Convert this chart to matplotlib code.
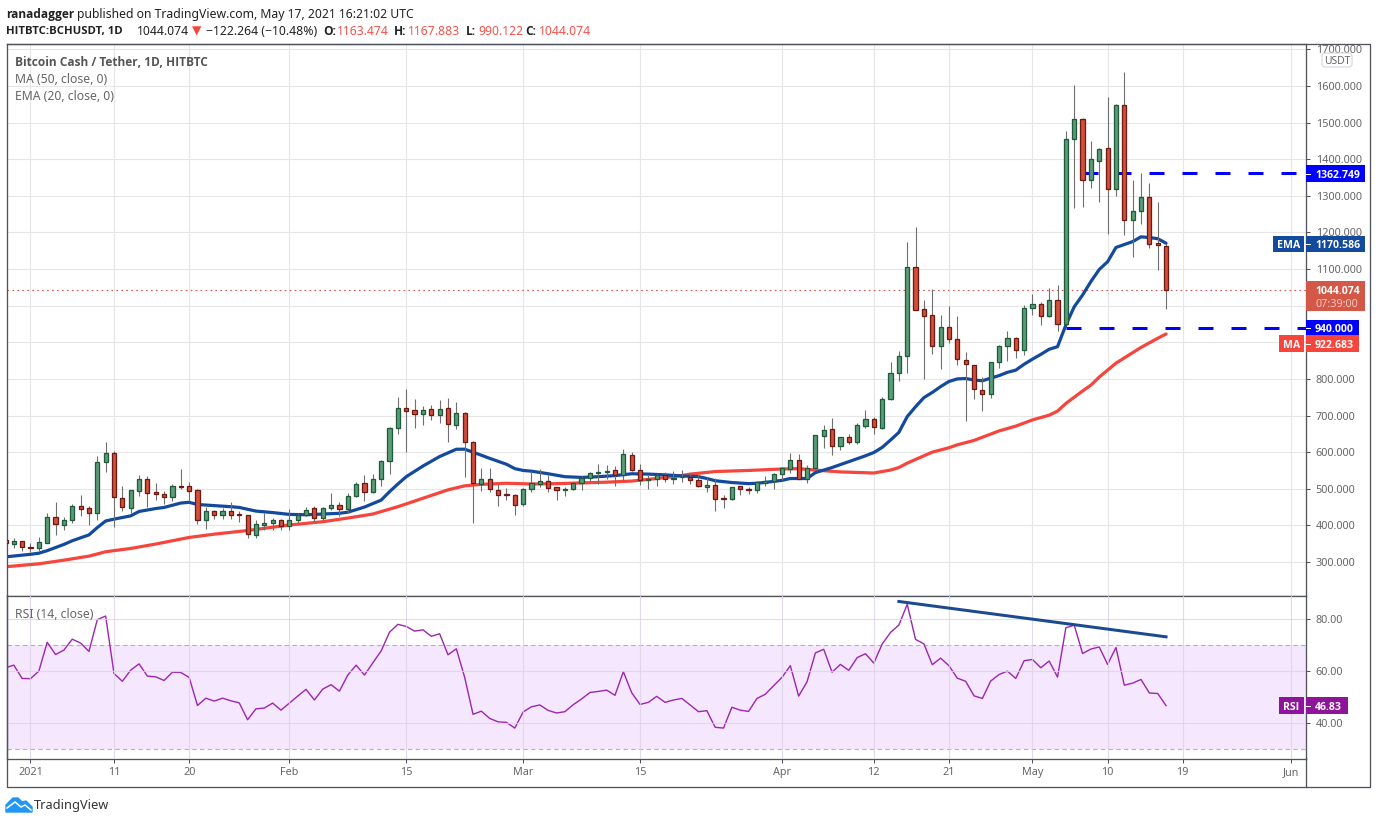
import numpy as np
import matplotlib
matplotlib.use("Agg")
import matplotlib.pyplot as plt
from matplotlib.patches import Rectangle, FancyBboxPatch, Polygon

plt.rcParams['font.family'] = ['Noto Sans', 'DejaVu Sans']

# Daily candles, day 0 = 1 Jan 2021
days = np.arange(-3, 137)
opens = np.array([
    360, 350, 356, 341, 339, 353, 422, 402, 416, 452,
    447, 435, 574, 599, 474, 448, 495, 526, 490, 487,
    478, 507, 507, 496, 416, 438, 429, 438, 430, 427,
    375, 402, 406, 416, 397, 414, 429, 447, 419, 447,
    457, 444, 481, 515, 492, 528, 577, 667, 720, 714,
    705, 717, 702, 720, 675, 706, 627, 514, 526, 496,
    485, 482, 459, 498, 514, 520, 504, 496, 498, 515,
    529, 544, 547, 550, 537, 591, 550, 523, 528, 538,
    528, 531, 533, 523, 506, 509, 474, 471, 507, 498,
    496, 517, 522, 539, 555, 578, 528, 558, 645, 662,
    616, 640, 629, 672, 690, 667, 744, 815, 862, 1105,
    990, 974, 889, 941, 908, 851, 837, 769, 758, 847,
    889, 911, 878, 995, 1004, 971, 1015, 949, 1454, 1509,
    1342, 1394, 1430, 1320, 1547, 1233, 1258, 1296, 1170, 1163])
highs = np.array([
    362, 365, 358, 353, 367, 433, 464, 423, 458, 483,
    453, 589, 628, 602, 508, 497, 538, 535, 516, 493,
    514, 554, 518, 499, 450, 442, 448, 464, 440, 428,
    415, 435, 419, 417, 445, 434, 450, 452, 449, 488,
    464, 488, 519, 538, 540, 579, 668, 750, 772, 745,
    726, 729, 742, 747, 737, 709, 630, 557, 557, 513,
    502, 487, 501, 549, 554, 538, 506, 504, 517, 535,
    546, 568, 565, 562, 609, 600, 568, 538, 540, 545,
    548, 551, 542, 538, 533, 529, 483, 506, 508, 506,
    522, 535, 542, 559, 597, 595, 565, 647, 674, 693,
    641, 649, 679, 714, 695, 750, 845, 876, 1173, 1214,
    1016, 1045, 974, 999, 972, 873, 837, 804, 847, 893,
    930, 914, 1001, 1032, 1009, 1047, 1056, 1477, 1603, 1512,
    1450, 1430, 1569, 1551, 1638, 1343, 1362, 1334, 1282, 1168])
lows = np.array([
    349, 339, 330, 327, 330, 353, 374, 387, 406, 426,
    402, 415, 546, 396, 440, 433, 480, 450, 469, 458,
    467, 499, 467, 404, 391, 417, 417, 417, 410, 366,
    366, 387, 387, 387, 387, 407, 426, 409, 415, 442,
    426, 435, 478, 467, 489, 508, 540, 650, 601, 666,
    674, 688, 680, 629, 663, 532, 407, 494, 492, 454,
    469, 429, 453, 492, 506, 492, 469, 480, 497, 497,
    521, 513, 527, 508, 520, 549, 510, 499, 508, 518,
    513, 519, 513, 504, 492, 440, 448, 468, 483, 486,
    489, 508, 499, 524, 544, 526, 517, 556, 611, 592,
    606, 622, 622, 667, 650, 664, 742, 794, 817, 987,
    799, 869, 828, 899, 839, 686, 746, 713, 749, 831,
    850, 858, 866, 975, 948, 970, 932, 947, 1268, 1270,
    1322, 1284, 1197, 1300, 1194, 1134, 1224, 1158, 1098, 990])
closes = np.array([
    351, 356, 340, 339, 354, 422, 405, 416, 452, 446,
    435, 572, 599, 477, 451, 496, 526, 489, 487, 478,
    507, 505, 495, 416, 438, 429, 438, 429, 427, 376,
    403, 406, 416, 397, 414, 429, 443, 419, 447, 457,
    444, 481, 512, 492, 528, 576, 665, 720, 713, 705,
    714, 702, 717, 678, 706, 627, 515, 526, 498, 482,
    482, 457, 498, 515, 520, 503, 496, 499, 515, 529,
    544, 545, 548, 537, 594, 550, 523, 528, 538, 526,
    530, 533, 523, 507, 509, 473, 471, 504, 498, 496,
    518, 522, 539, 556, 578, 528, 558, 646, 660, 616,
    640, 629, 673, 690, 670, 744, 815, 862, 1105, 987,
    973, 889, 941, 908, 854, 840, 772, 758, 847, 890,
    911, 878, 995, 1004, 971, 1015, 949, 1454, 1509, 1342,
    1400, 1427, 1318, 1547, 1233, 1258, 1296, 1168, 1165, 1044])

ema_days = [-3, 0, 1, 2, 4, 5, 7, 8, 9, 10, 12, 13, 15, 16, 18, 19, 20, 22, 24, 25, 27, 29, 31, 33, 35, 37,
            38, 40, 42, 43, 44, 45, 47, 49, 51, 52, 53, 55, 57, 58, 59, 60, 62, 64, 66, 68, 70, 72, 74, 76,
            78, 80, 81, 82, 84, 86, 87, 89, 90, 91, 93, 94, 96, 98, 100, 101, 102, 103, 104, 105, 106, 107,
            108, 109, 110, 111, 112, 113, 114, 115, 116, 117, 118, 119, 120, 121, 122, 123, 124, 125, 126,
            127, 128, 129, 130, 131, 132, 133, 134, 135, 136]
ema_values = [314, 321, 324, 331, 348, 358, 374, 394, 412, 417, 426, 438, 446, 449, 461, 463, 457, 454, 451,
              449, 439, 435, 430, 429, 431, 433, 436, 450, 469, 492, 513, 533, 562, 588, 608, 608, 600, 583,
              567, 555, 550, 548, 541, 533, 531, 533, 536, 541, 540, 538, 535, 533, 528, 522, 517, 514, 515,
              520, 523, 528, 528, 544, 558, 574, 590, 599, 613, 633, 654, 697, 724, 749, 763, 779, 793, 800,
              801, 797, 795, 802, 809, 818, 824, 840, 854, 867, 881, 888, 947, 997, 1029, 1066, 1099, 1120,
              1159, 1167, 1175, 1188, 1186, 1183, 1170.586]

ma_days = [-3, 1, 4, 7, 9, 12, 15, 19, 22, 26, 31, 35, 38, 41, 44, 47, 50, 52, 54, 57, 60, 63, 66, 69, 72, 75,
           78, 79, 82, 86, 90, 92, 94, 97, 101, 103, 104, 105, 106, 108, 110, 111, 113, 116, 118, 120, 122,
           123, 124, 125, 126, 127, 128, 129, 130, 133, 135, 136]
ma_values = [287, 295, 305, 316, 328, 337, 349, 367, 376, 386, 401, 410, 420, 431, 451, 474, 497, 508, 512,
             515, 513, 514, 516, 518, 521, 528, 536, 540, 547, 550, 554, 555, 551, 546, 543, 551, 558, 570,
             580, 600, 612, 620, 632, 658, 671, 688, 701, 712, 733, 750, 767, 783, 805, 824, 843, 886, 911,
             922.683]

rsi_values = [
    61.4, 62.4, 57.3, 57.2, 60.1, 71.2, 66.5, 68.2, 72.4, 70.9,
    67.7, 79.9, 81.3, 59.2, 56.2, 60.5, 62.9, 58.2, 57.9, 56.5,
    59.7, 59.6, 57.7, 46.9, 49.7, 48.6, 49.7, 48.7, 47.9, 41.4,
    45.6, 45.9, 47.8, 45.1, 47.8, 50.5, 53.1, 49.0, 53.2, 54.9,
    52.4, 58.6, 62.4, 58.6, 63.3, 67.9, 75.1, 78.1, 77.3, 75.5,
    76.0, 73.5, 74.5, 66.4, 68.7, 57.7, 43.5, 44.7, 41.9, 40.6,
    40.4, 38.2, 44.4, 46.4, 47.1, 45.0, 44.0, 44.5, 47.2, 49.4,
    51.9, 52.3, 52.8, 50.8, 59.9, 51.8, 47.3, 48.1, 50.4, 48.1,
    49.0, 49.6, 47.1, 44.5, 44.9, 38.5, 38.2, 46.2, 45.1, 44.6,
    49.6, 51.2, 54.5, 57.7, 62.2, 50.5, 56.0, 67.1, 68.5, 59.7,
    62.7, 60.4, 65.3, 66.8, 63.2, 70.5, 75.0, 77.8, 85.8, 72.3,
    70.6, 62.6, 65.1, 62.2, 57.4, 56.2, 50.6, 49.6, 56.3, 58.8,
    60.1, 57.3, 64.1, 64.6, 61.4, 64.0, 57.8, 76.8, 77.8, 66.9,
    68.6, 69.4, 62.7, 69.2, 54.7, 55.5, 56.9, 51.7, 51.5, 46.83]

price_ticks = list(range(300, 1800, 100))
hidden_price_labels = [900, 1000]  # sit behind the price tags in the reference
rsi_ticks = [40, 60, 80]
date_ticks = [0, 10, 19, 31, 45, 59, 73, 90, 101, 110, 120, 129, 138, 151]
date_labels = ["2021", "11", "20", "Feb", "15", "Mar", "15", "Apr", "12", "21", "May", "10", "19", "Jun"]

last_close = 1044.074
level_high = 1362.749
level_low = 940.0
trend_days = [104, 136]
trend_rsi = [86.9, 73.3]

W, H = 1376, 823
GRID = "#e6e6e6"
FRAME = "#50535e"
LABEL = "#666666"
PX = 0.72  # one pixel in points
AXIS_FS = 7.8
BOLD = "Open Sans"  # Noto Sans here has no bold face


def px_axes(x0, y0, x1, y1):
    return fig.add_axes([x0 / W, 1 - y1 / H, (x1 - x0) / W, (y1 - y0) / H])


fig = plt.figure(figsize=(W / 100, H / 100), dpi=100, facecolor="white")
ax = px_axes(6.5, 43.5, 1305.5, 595.5)
ax_rsi = px_axes(6.5, 595.5, 1305.5, 758.5)
xlim = (-2.874, 152.7)

# price pane
ax.set_xlim(xlim)
ax.set_ylim(208.5, 1716)
ax.set_yticks(price_ticks)
ax.set_yticklabels(["" if v in hidden_price_labels else f"{v}.000" for v in price_ticks])
ax.set_xticks(date_ticks)
ax.grid(True, color=GRID, lw=1.15 * PX, zorder=0)
ax.set_axisbelow(True)
ax.tick_params(axis="x", length=0, labelbottom=False)
ax.tick_params(axis="y", right=True, left=False, labelright=True, labelleft=False,
               length=4 * PX, color=FRAME, width=PX, labelcolor=LABEL, labelsize=AXIS_FS, pad=4.5)

ax.axhline(last_close, color="#d1554a", lw=PX * 1.1, ls=(0, (1.5, 3)), zorder=1)
ax.plot(ma_days, ma_values, color="#f5453c", lw=3.2 * PX, zorder=2, solid_capstyle="round")
ax.plot(ema_days, ema_values, color="#134a9e", lw=3.2 * PX, zorder=2.1, solid_capstyle="round")
ax.plot([126, xlim[1]], [level_high, level_high], color="#0000ff", lw=3 * PX,
        ls=(0, (5, 6)), dash_capstyle="butt", zorder=2.2)
ax.plot([124, xlim[1]], [level_low, level_low], color="#0000ff", lw=3 * PX,
        ls=(0, (5, 6)), dash_capstyle="butt", zorder=2.2)

up = closes >= opens
body_colors = np.where(up, "#5b9c78", "#d24f3c")
edge_colors = np.where(up, "#1f5a3a", "#6e1a12")
ax.vlines(days, lows, highs, color="#6f6f6f", lw=1.1 * PX, zorder=3)
ax.bar(days, np.abs(closes - opens), bottom=np.minimum(opens, closes), width=0.5,
       color=body_colors, edgecolor=edge_colors, linewidth=1.3 * PX, zorder=4)

# RSI pane
ax_rsi.set_xlim(xlim)
ax_rsi.set_ylim(26.5, 89.2)
ax_rsi.axhspan(30, 70, color="#f5e7fd", lw=0, zorder=0.5)
ax_rsi.set_yticks(rsi_ticks)
ax_rsi.set_yticklabels([f"{v}.00" for v in rsi_ticks])
ax_rsi.set_xticks(date_ticks)
ax_rsi.set_xticklabels(date_labels)
ax_rsi.grid(True, color=GRID, lw=1.15 * PX, zorder=1)
ax_rsi.set_axisbelow(False)
for gl in ax_rsi.get_xgridlines() + ax_rsi.get_ygridlines():
    gl.set_color("#dcd2e6")
    gl.set_alpha(0.8)
    gl.set_zorder(1)
ax_rsi.axhline(70, color="#b9adc2", lw=1.1 * PX, ls=(0, (4, 3)), zorder=1.5)
ax_rsi.axhline(30, color="#b9adc2", lw=1.1 * PX, ls=(0, (4, 3)), zorder=1.5)
ax_rsi.plot(days, rsi_values, color="#9c27b0", lw=1.4 * PX, zorder=2)
ax_rsi.plot(trend_days, trend_rsi, color="#1b4a8f", lw=3 * PX, zorder=3)
ax_rsi.tick_params(axis="y", right=True, left=False, labelright=True, labelleft=False,
                   length=4 * PX, color=FRAME, width=PX, labelcolor=LABEL, labelsize=AXIS_FS, pad=4.5)
ax_rsi.tick_params(axis="x", length=4 * PX, color=FRAME, width=PX, labelcolor=LABEL,
                   labelsize=AXIS_FS, pad=3.5)

for a in (ax, ax_rsi):
    for s in a.spines.values():
        s.set_color(FRAME)
        s.set_linewidth(1.3 * PX)

# overlay in pixels for tags, header and logo
ov = fig.add_axes([0, 0, 1, 1], facecolor="none")
ov.set_xlim(0, W)
ov.set_ylim(H, 0)
ov.axis("off")

ov.plot([6.5, 6.5, 1370, 1370, 6.5], [595, 786.5, 786.5, 43.5, 43.5], color=FRAME, lw=1.3 * PX)
ov.plot([1305.5, 1305.5], [758, 786.5], color=FRAME, lw=1.3 * PX)


def tag(x0, x1, y0, y1, color, label, text_x=None):
    ov.add_patch(Rectangle((x0, y0), x1 - x0, y1 - y0, facecolor=color, edgecolor="none", zorder=5))
    if text_x is None:
        ov.text((x0 + x1) / 2, (y0 + y1) / 2, label, color="white", fontsize=AXIS_FS - 0.2, family=BOLD,
                fontweight="bold", ha="center", va="center_baseline", zorder=6)
    else:
        ov.text(text_x, (y0 + y1) / 2, label, color="white", fontsize=AXIS_FS - 0.2, family=BOLD,
                fontweight="bold", ha="left", va="center_baseline", zorder=6)


def stub(y):
    ov.plot([1305.5, 1309.5], [y, y], color="white", lw=PX, zorder=7)


tag(1306, 1365, 165, 182, "#0000ff", f"{level_high:.3f}", text_x=1315)
stub(173.5)
tag(1306, 1365, 236, 252, "#134a9e", "1170.586", text_x=1315)
tag(1273, 1304, 236, 252, "#134a9e", "EMA")
stub(244)
ov.add_patch(Rectangle((1306, 281), 59, 30, facecolor="#d35847", edgecolor="none", zorder=5))
ov.text(1315, 289.5, "1044.074", color="white", fontsize=AXIS_FS - 0.2, family=BOLD, fontweight="bold",
        ha="left", va="center_baseline", zorder=6)
ov.text(1315, 303, "07:39:00", color="#f6c6be", fontsize=AXIS_FS, ha="left", va="center_baseline", zorder=6)
tag(1306, 1359, 320, 335, "#0000ff", "940.000", text_x=1315)
stub(328)
tag(1306, 1359, 335, 352, "#f5453c", "922.683", text_x=1315)
tag(1279, 1304, 335, 352, "#f5453c", "MA")
stub(344)
tag(1306, 1348, 697, 714, "#8e1599", "46.83", text_x=1315)
tag(1279, 1304, 697, 714, "#8e1599", "RSI")
stub(705.5)

ov.add_patch(FancyBboxPatch((1324, 55), 26, 10, boxstyle="round,pad=2,rounding_size=3",
                            facecolor="white", edgecolor="#d0d3dc", lw=PX, zorder=5))
ov.text(1337, 60, "USDT", color=LABEL, fontsize=7.4, ha="center", va="center_baseline", zorder=6)

# header
HEAD = "#222222"
HS = 8.8
y1, y2 = 12.5, 29.5
ov.text(6, y1, "ranadagger", color=HEAD, fontsize=8.6, family=BOLD, fontweight="bold", va="center_baseline")
ov.text(77, y1, "published on TradingView.com, May 17, 2021 16:21:02 UTC", color=HEAD, fontsize=HS,
        va="center_baseline")
ov.text(6, y2, "HITBTC:BCHUSDT, 1D", color=HEAD, fontsize=8.2, family=BOLD, fontweight="bold",
        va="center_baseline")
ov.text(137, y2, "1044.074", color=HEAD, fontsize=HS, va="center_baseline")
ov.text(192, y2, "\u25bc", color="#f5453c", fontsize=HS, family="DejaVu Sans", va="center_baseline")
ov.text(206, y2, "\u2212122.264 (\u221210.48%)", color=HEAD, fontsize=HS, va="center_baseline")
for x, s in [(323, "O:"), (394, "H:"), (466, "L:"), (525, "C:")]:
    ov.text(x, y2, s, color=HEAD, fontsize=8.6, family=BOLD, fontweight="bold", va="center_baseline")
for x, s in [(337, "1163.474"), (408, "1167.883"), (478, "990.122"), (539, "1044.074")]:
    ov.text(x, y2, s, color="#f5534a", fontsize=HS, va="center_baseline")

# legend
ov.text(15, 60.5, "Bitcoin Cash / Tether, 1D, HITBTC", color="#555555", fontsize=8.6, family=BOLD,
        fontweight="bold", va="center_baseline")
ov.text(15, 77.5, "MA (50, close, 0)", color="#666666", fontsize=8.8, va="center_baseline")
ov.text(15, 94.5, "EMA (20, close, 0)", color="#666666", fontsize=8.8, va="center_baseline")
ov.text(15, 612.5, "RSI (14, close)", color="#666666", fontsize=8.8, va="center_baseline")

# logo
ov.add_patch(Polygon([(6, 812), (6, 805), (13, 798), (18, 798), (22, 802), (26, 801), (32, 807), (32, 812)],
                     closed=True, facecolor="#2196f3", edgecolor="#2196f3", lw=1, joinstyle="round"))
ov.plot([7, 15, 21, 25, 31], [808, 802, 807, 805, 810], color="white", lw=1.5 * PX)
ov.text(34, 804.5, "TradingView", color="#333333", fontsize=9.2, va="center_baseline")

fig.savefig("out.png", dpi=100, facecolor="white")
